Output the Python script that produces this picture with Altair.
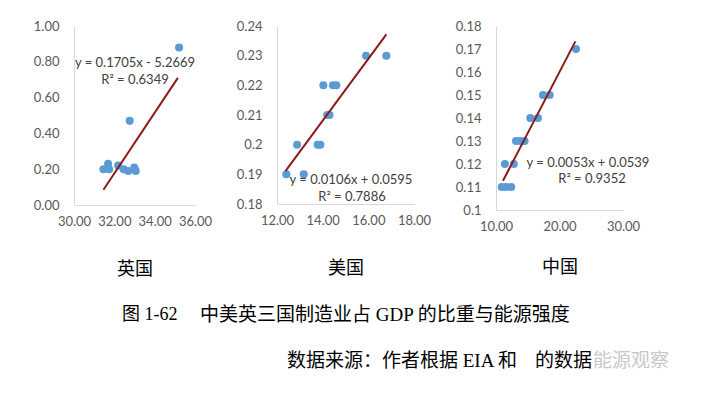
import altair as alt
import pandas as pd

# ---------------- data ----------------
# UK: manufacturing share of GDP (x) vs energy intensity (y)
uk_x = [31.46, 31.69, 31.74, 32.19, 32.46, 32.69, 32.99, 33.06, 32.76, 35.21]
uk_y = [0.20, 0.23, 0.20, 0.22, 0.20, 0.19, 0.21, 0.19, 0.47, 0.88]
uk_trend_x = [31.46, 35.15]
uk_trend_y = [0.085, 0.71]

# US
us_x = [12.41, 12.88, 13.17, 13.78, 13.90, 14.03, 14.20, 14.30, 14.45, 14.60, 15.90, 16.79]
us_y = [0.19, 0.20, 0.19, 0.20, 0.20, 0.22, 0.21, 0.21, 0.22, 0.22, 0.23, 0.23]
us_trend_x = [12.37, 16.79]
us_trend_y = [0.1911, 0.2372]

# China
cn_x = [10.9, 11.6, 12.4, 11.4, 12.8, 13.15, 13.8, 14.5, 15.4, 16.6, 17.4, 18.45, 22.6]
cn_y = [0.11, 0.11, 0.11, 0.12, 0.12, 0.13, 0.13, 0.13, 0.14, 0.14, 0.15, 0.15, 0.17]
cn_trend_x = [11.1, 22.5]
cn_trend_y = [0.1127, 0.1733]

uk_xticks = [30, 32, 34, 36]
uk_yticks = [0.0, 0.2, 0.4, 0.6, 0.8, 1.0]
us_xticks = [12, 14, 16, 18]
us_yticks = [0.18, 0.19, 0.20, 0.21, 0.22, 0.23, 0.24]
cn_xticks = [10, 20, 30]
cn_yticks = [0.10, 0.11, 0.12, 0.13, 0.14, 0.15, 0.16, 0.17, 0.18]

panel_titles = ["英国", "美国", "中国"]
equations = ["y = 0.1705x - 5.2669", "y = 0.0106x + 0.0595", "y = 0.0053x + 0.0539"]
r_squared = ["R² = 0.6349", "R² = 0.7886", "R² = 0.9352"]

caption_no = "图 1-62"
caption = "中美英三国制造业占 GDP 的比重与能源强度"
source = "数据来源：作者根据 EIA 和"
source_tail = "的数据"
watermark = "能源观察"

LABEL_FONT = "Lato"
SERIF = "'Liberation Serif', 'Noto Sans CJK SC'"
POINT_COLOR = "#5B9BD5"
TREND_COLOR = "#8B1A1A"


def panel(xs, ys, txs, tys, xdom, ydom, xticks, yticks, xfmt, ylabel_expr,
          title, title_y, w, h, eq, r2, eq_pos, extra=None):
    df = pd.DataFrame({"x": xs, "y": ys})
    tdf = pd.DataFrame({"x": txs, "y": tys})
    xs_ = alt.Scale(domain=xdom, nice=False, zero=False)
    ys_ = alt.Scale(domain=ydom, nice=False, zero=False)
    xax = alt.Axis(values=xticks, format=xfmt, title=title, titleY=title_y,
                   titleBaseline="middle", labelOverlap=False, tickCount=len(xticks))
    yax = alt.Axis(values=yticks, labelExpr=ylabel_expr, title=None,
                   labelOverlap=False, tickCount=len(yticks))
    pts = alt.Chart(df).mark_circle(size=65, color=POINT_COLOR, opacity=1).encode(
        x=alt.X("x:Q", scale=xs_, axis=xax),
        y=alt.Y("y:Q", scale=ys_, axis=yax),
    )
    line = alt.Chart(tdf).mark_line(color=TREND_COLOR, strokeWidth=2).encode(
        x=alt.X("x:Q", scale=xs_, axis=xax),
        y=alt.Y("y:Q", scale=ys_, axis=yax),
    )
    eq1 = alt.Chart(pd.DataFrame({"t": [eq]})).mark_text(
        font=LABEL_FONT, fontSize=13, color="#404040", align="center", baseline="middle"
    ).encode(text="t:N", x=alt.value(eq_pos[0]), y=alt.value(eq_pos[1]))
    eq2 = alt.Chart(pd.DataFrame({"t": [r2]})).mark_text(
        font=LABEL_FONT, fontSize=13, color="#404040", align="center", baseline="middle"
    ).encode(text="t:N", x=alt.value(eq_pos[2]), y=alt.value(eq_pos[3]))
    layers = [pts, line, eq1, eq2]
    if extra:
        layers += extra
    return alt.layer(*layers).properties(width=w, height=h)


def note(text, x, y, color="#000000", size=19):
    return alt.Chart(pd.DataFrame({"t": [text]})).mark_text(
        font=SERIF, fontSize=size, color=color, align="left", baseline="middle"
    ).encode(text="t:N", x=alt.value(x), y=alt.value(y))


# annotations (placed relative to the UK plot origin)
notes = [
    note(caption_no, 48, 289, size=18),
    note(caption, 126, 289),
    note(source, 213, 335),
    note(source_tail, 461, 335),
    note(watermark, 519, 335, color="#C8C8C8"),
]

p1 = panel(uk_x, uk_y, uk_trend_x, uk_trend_y, [30, 36], [0, 1], uk_xticks, uk_yticks,
           ".2f", "format(datum.value, '.2f')", panel_titles[0], 64, 121, 179,
           equations[0], r_squared[0], (61, 37, 61, 54), extra=notes)
p2 = panel(us_x, us_y, us_trend_x, us_trend_y, [12, 18], [0.18, 0.24], us_xticks, us_yticks,
           ".2f", "format(datum.value, '.2~f')", panel_titles[1], 64, 137, 178,
           equations[1], r_squared[1], (74, 154, 75, 171))
p3 = panel(cn_x, cn_y, cn_trend_x, cn_trend_y, [10, 30], [0.10, 0.18], cn_xticks, cn_yticks,
           ".2f", "format(datum.value, '.2~f')", panel_titles[2], 57, 127, 184,
           equations[2], r_squared[2], (92, 137, 96, 153))

chart = alt.hconcat(p1, p2, p3, spacing=82, bounds="flush").properties(
    padding={"left": 25, "top": 12, "right": 5, "bottom": 5},
    background="white",
).configure_view(stroke=None).configure_axis(
    grid=False,
    ticks=False,
    domainColor="#D9D9D9",
    domainWidth=1,
    labelColor="#595959",
    labelFont=LABEL_FONT,
    labelFontSize=13,
    labelOverlap=False,
    titleFont=SERIF,
    titleFontSize=18,
    titleFontWeight="normal",
    titleColor="#000000",
).configure_axisX(
    labelPadding=10,
    labelFlush=False,
).configure_axisY(
    labelPadding=15,
    labelFlush=False,
)

chart.save("out.html", embed_options={"renderer": "svg", "actions": False})
